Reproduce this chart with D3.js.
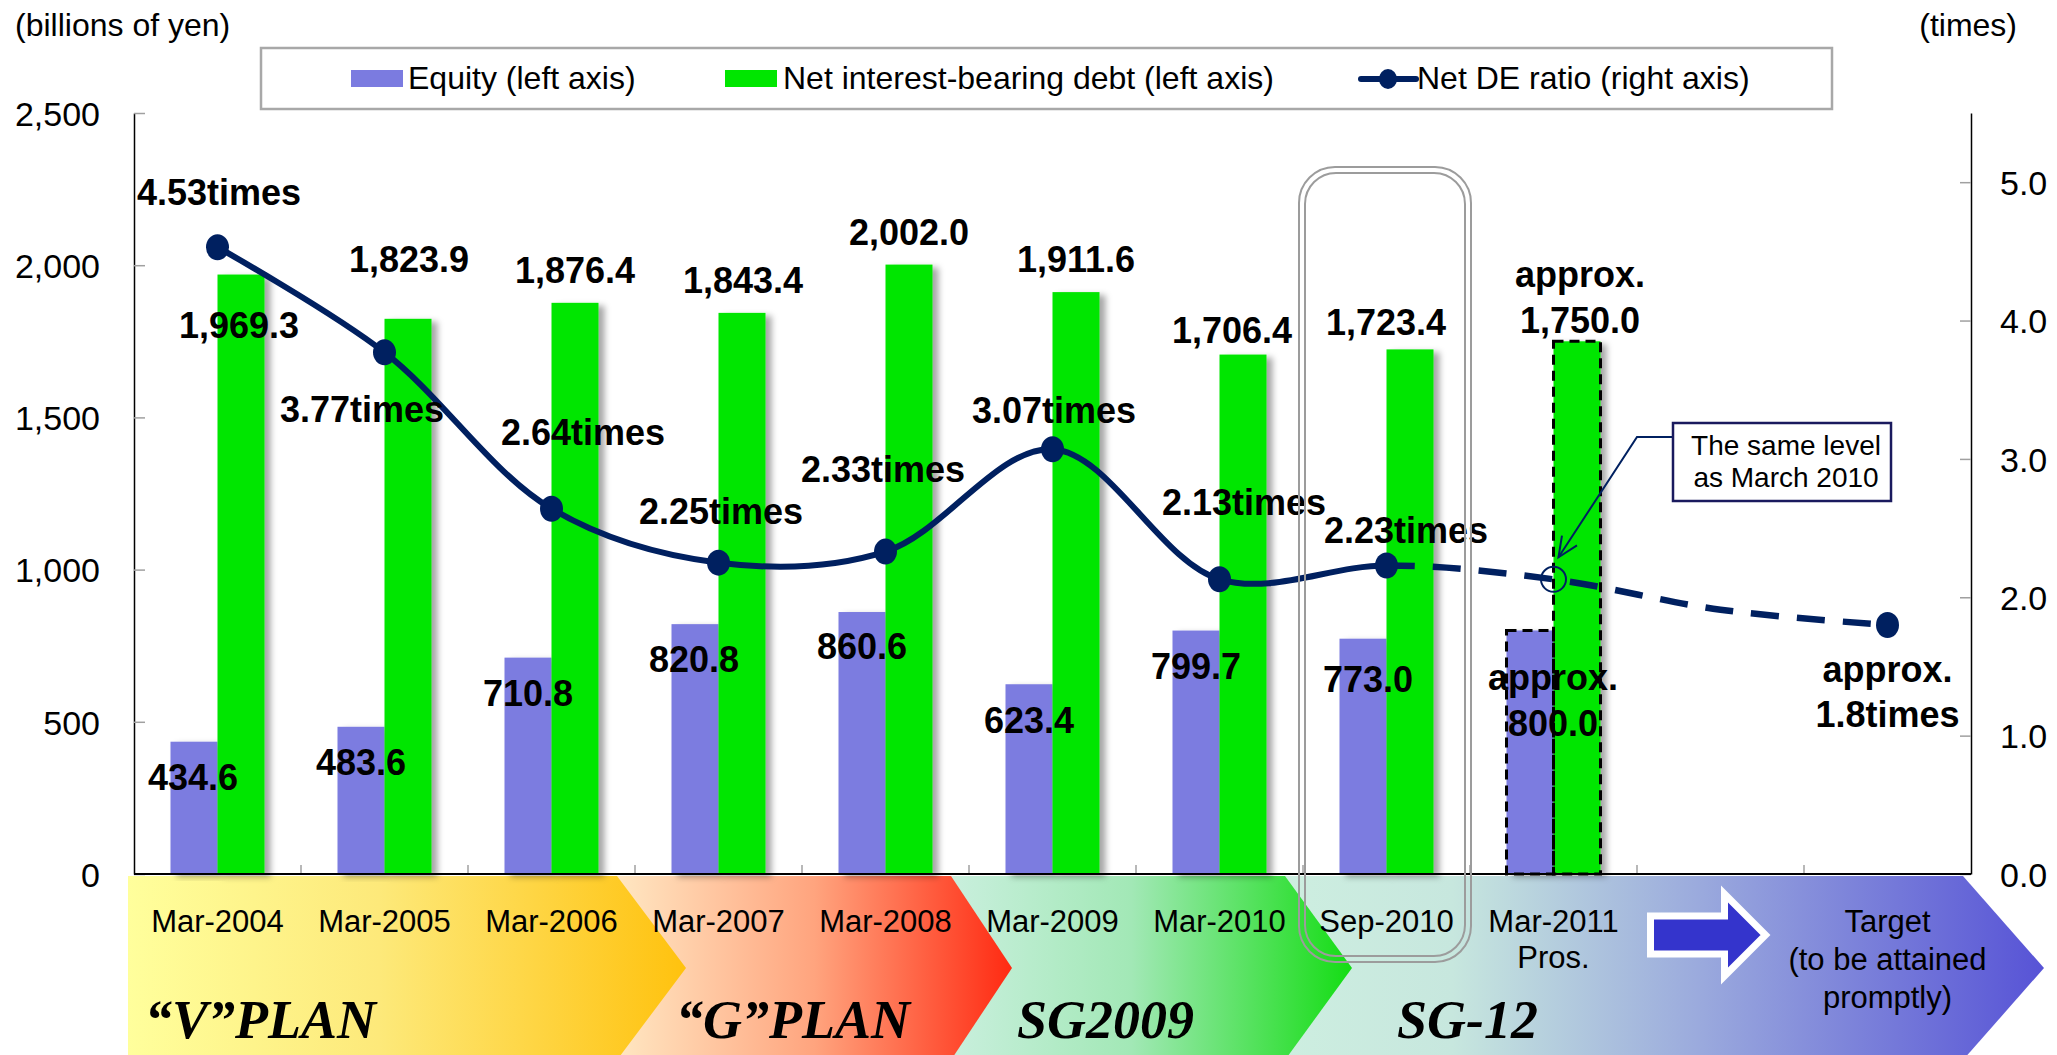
<!DOCTYPE html>
<html><head><meta charset="utf-8">
<script src="https://cdn.jsdelivr.net/npm/d3@7"></script>
<style>
body{margin:0;background:#fff}
svg{display:block}
text{font-family:"Liberation Sans",Arial,Helvetica,sans-serif}
</style>
</head><body>
<svg id="c" width="2057" height="1055"></svg>
<script>
// ---------- data ----------
const categories = ["Mar-2004","Mar-2005","Mar-2006","Mar-2007","Mar-2008","Mar-2009","Mar-2010","Sep-2010","Mar-2011","gap","Target"];
const tickLabels = [["Mar-2004"],["Mar-2005"],["Mar-2006"],["Mar-2007"],["Mar-2008"],["Mar-2009"],["Mar-2010"],["Sep-2010"],["Mar-2011","Pros."],[],["Target","(to be attained","promptly)"]];
const barCats = ["Mar-2004","Mar-2005","Mar-2006","Mar-2007","Mar-2008","Mar-2009","Mar-2010","Sep-2010","Mar-2011"];
const equity = [434.6,483.6,710.8,820.8,860.6,623.4,799.7,773.0,800.0];
const debt = [1969.3,1823.9,1876.4,1843.4,2002.0,1911.6,1706.4,1723.4,1750.0];
const ratioCats = ["Mar-2004","Mar-2005","Mar-2006","Mar-2007","Mar-2008","Mar-2009","Mar-2010","Sep-2010","Mar-2011","gap","Target"];
const ratio = [4.53,3.77,2.64,2.25,2.33,3.07,2.13,2.23,2.13,1.91,1.8];
const ratioMarker = ["fill","fill","fill","fill","fill","fill","fill","fill","hollow","none","fill"];
const equityLabels = ["434.6","483.6","710.8","820.8","860.6","623.4","799.7","773.0","approx.|800.0"];
const debtLabels = ["1,969.3","1,823.9","1,876.4","1,843.4","2,002.0","1,911.6","1,706.4","1,723.4","approx.|1,750.0"];
const ratioLabels = ["4.53times","3.77times","2.64times","2.25times","2.33times","3.07times","2.13times","2.23times","","","approx.|1.8times"];
const leftTicks = [0,500,1000,1500,2000,2500];
const rightTicks = [0,1,2,3,4,5];
const legendItems = ["Equity (left axis)","Net interest-bearing debt (left axis)","Net DE ratio (right axis)"];
const plans = [
  {name:"\u201CV\u201DPLAN", from:"Mar-2004", to:"Mar-2007"},
  {name:"\u201CG\u201DPLAN", from:"Mar-2007", to:"Mar-2009"},
  {name:"SG2009", from:"Mar-2009", to:"Sep-2010"},
  {name:"SG-12", from:"Sep-2010", to:null}
];
const calloutLines = ["The same level","as March 2010"];

// ---------- layout (label nudges, px) ----------
const equityLabelOff = [[-1,48],[0,48],[0,48],[-1,48],[0,47],[0,49],[0,48],[5,53],[23,60]];
const debtLabelOff = [[-2,63],[1,-47],[0,-20],[1,-20],[0,-20],[0,-20],[-11,-12],[-24,-14],[3,-54]];
const ratioLabelOff = [[1.5,-42],[-22.5,70],[31.5,-64],[2.5,-39],[-2.5,-70],[1.5,-26],[24.5,-64],[19.5,-22.5],null,null,[0,57]];
const planTextOff = [17,59,66,112];
const planColors = [
  [["0","#ffff9c"],["0.45","#fde97a"],["1","#ffc20e"]],
  [["0","#ffe7c2"],["0.5","#ffa47e"],["1","#ff2a12"]],
  [["0","#c9efdd"],["0.45","#a2e8b6"],["1","#14dd14"]],
  [["0","#cdeee0"],["0.22","#c7e7de"],["0.55","#9aa9dd"],["1","#5753d6"]]
];

const NAVY = "#002060", EQ = "#7b7be0", GR = "#00e600";
const svg = d3.select("#c");
const defs = svg.append("defs");

const L = 134, R = 1971, T = 113, B = 874;
const x = d3.scaleBand().domain(categories).range([L,R]).padding(0);
const bw = x.bandwidth();
const xs = d3.scaleBand().domain(["eq","debt"]).range([0,bw]).paddingInner(0).paddingOuter(0.7766);
const yL = d3.scaleLinear().domain([0,2500]).range([B,T]);
const yR = d3.scaleLinear().domain([0,5.5]).range([B,T]);
const xc = c => x(c) + bw/2;

// shadow filter
const f = defs.append("filter").attr("id","sh").attr("x","-30%").attr("y","-5%").attr("width","160%").attr("height","110%");
f.append("feDropShadow").attr("dx",6).attr("dy",3).attr("stdDeviation",3).attr("flood-color","#000").attr("flood-opacity",0.35);

// ---------- bottom band ----------
const bandTop = 876, bandBot = 1060, bandMid = (bandTop+bandBot)/2;
const planX0 = [128];
const planX1 = plans.map(p => p.to ? x(p.to) - 18 : R - 8);
for (let i=1;i<plans.length;i++) planX0.push(planX1[i-1]);
const depth = [69,61,67,81];
plans.forEach((p,i)=>{
  const g = defs.append("linearGradient").attr("id","pg"+i).attr("gradientUnits","userSpaceOnUse")
    .attr("x1",planX0[i]).attr("x2",planX1[i]+depth[i]).attr("y1",0).attr("y2",0);
  planColors[i].forEach(s=>g.append("stop").attr("offset",s[0]).attr("stop-color",s[1]));
});
const bandG = svg.append("g");
[3,2,1,0].forEach(i=>{
  const x0 = planX0[i], x1 = planX1[i];
  bandG.append("path")
    .attr("d",`M${x0},${bandTop}L${x1},${bandTop}L${x1+depth[i]},${bandMid}L${x1},${bandBot}L${x0},${bandBot}Z`)
    .attr("fill",`url(#pg${i})`);
});
plans.forEach((p,i)=>{
  bandG.append("text").attr("x",planX0[i]+planTextOff[i]).attr("y",1038)
    .style("font-family",'"Liberation Serif","Times New Roman",serif')
    .attr("font-weight","bold").attr("font-style","italic").attr("font-size",54)
    .text(p.name);
});
// category labels
categories.forEach((c,i)=>{
  const lines = tickLabels[i];
  const lh = lines.length>2 ? 38 : 36;
  lines.forEach((s,j)=>{
    bandG.append("text").attr("x",xc(c)).attr("y",932+j*lh).attr("text-anchor","middle")
      .attr("font-size",31).text(s);
  });
});
// big arrow in the gap slot
{
  const cx = xc("gap"), cy = 935;
  const pts = [[cx-70,cy-19],[cx+4,cy-19],[cx+4,cy-41],[cx+45,cy],[cx+4,cy+41],[cx+4,cy+19],[cx-70,cy+19]];
  bandG.append("polygon").attr("points",pts.map(p=>p.join(",")).join(" "))
    .attr("fill","#3434cc").attr("stroke","#fff").attr("stroke-width",7).attr("stroke-linejoin","miter");
}

// ---------- axes ----------
const axL = d3.axisLeft(yL).tickValues(leftTicks).tickFormat(d3.format(",")).tickSize(-11).tickSizeOuter(0).tickPadding(34);
const axR = d3.axisRight(yR).tickValues(rightTicks).tickFormat(d3.format(".1f")).tickSize(-11).tickSizeOuter(0).tickPadding(29);
const gL = svg.append("g").attr("transform",`translate(${L},0)`).call(axL);
const gR = svg.append("g").attr("transform",`translate(${R},0)`).call(axR);
[gL,gR].forEach(g=>{
  g.select(".domain").attr("stroke","#000").attr("stroke-width",1.5);
  g.selectAll(".tick line").attr("stroke","#a0a0a0").attr("stroke-width",1.5);
  g.selectAll(".tick text").attr("font-size",34).attr("fill","#000").attr("dy","0.36em")
    .style("font-family",'"Liberation Sans",Arial,sans-serif');
});
// x axis
const gX = svg.append("g");
gX.selectAll("line.xt").data(categories.slice(1)).join("line")
  .attr("x1",d=>x(d)).attr("x2",d=>x(d)).attr("y1",B).attr("y2",B-9)
  .attr("stroke","#a0a0a0").attr("stroke-width",1.5);
gX.append("line").attr("x1",L).attr("x2",R).attr("y1",B).attr("y2",B).attr("stroke","#000").attr("stroke-width",2);

// ---------- bars ----------
const barsG = svg.append("g");
barCats.forEach((c,i)=>{
  const isProj = c==="Mar-2011";
  const ex = x(c)+xs("eq"), dx = x(c)+xs("debt"), w = xs.bandwidth();
  barsG.append("rect").attr("x",ex).attr("y",yL(equity[i])).attr("width",w).attr("height",B-yL(equity[i]))
    .attr("fill",EQ).attr("filter","url(#sh)");
  barsG.append("rect").attr("x",dx).attr("y",yL(debt[i])).attr("width",w).attr("height",B-yL(debt[i]))
    .attr("fill",GR).attr("filter","url(#sh)");
  if (isProj){
    [[ex,equity[i]],[dx,debt[i]]].forEach(([bx,v])=>{
      barsG.append("rect").attr("x",bx).attr("y",yL(v)).attr("width",w).attr("height",B-yL(v))
        .attr("fill","none").attr("stroke","#000").attr("stroke-width",3).attr("stroke-dasharray","10 6");
    });
  }
});
gX.raise();

// ---------- line ----------
const pts = ratioCats.map((c,i)=>[xc(c), yR(ratio[i])]);
const lineGen = d3.line().curve(d3.curveCatmullRom.alpha(0.5));
const splitX = xc("Sep-2010");
const clipA = defs.append("clipPath").attr("id","clipSolid");
clipA.append("rect").attr("x",0).attr("y",0).attr("width",splitX).attr("height",1055);
const clipB = defs.append("clipPath").attr("id","clipDash");
clipB.append("rect").attr("x",splitX).attr("y",0).attr("width",2057-splitX).attr("height",1055);
const lineG = svg.append("g");
lineG.append("path").attr("d",lineGen(pts)).attr("fill","none").attr("stroke",NAVY).attr("stroke-width",6)
  .attr("clip-path","url(#clipSolid)");
const dashP = lineG.append("path").attr("d",lineGen(pts)).attr("fill","none").attr("stroke",NAVY).attr("stroke-width",6.5)
  .attr("stroke-dasharray","28 18").attr("clip-path","url(#clipDash)");
{
  const node = dashP.node();
  const total = node.getTotalLength();
  let lo=0, hi=total;
  for (let k=0;k<40;k++){ const m=(lo+hi)/2; if (node.getPointAtLength(m).x < splitX) lo=m; else hi=m; }
  dashP.attr("stroke-dashoffset", -lo);
}
ratioCats.forEach((c,i)=>{
  if (ratioMarker[i]==="hollow"){
    lineG.append("ellipse").attr("cx",pts[i][0]).attr("cy",pts[i][1]).attr("rx",12.5).attr("ry",12.5)
      .attr("fill","none").attr("stroke",NAVY).attr("stroke-width",2);
  } else if (ratioMarker[i]==="fill") {
    lineG.append("ellipse").attr("cx",pts[i][0]).attr("cy",pts[i][1]).attr("rx",11.5).attr("ry",13).attr("fill",NAVY);
  }
});

// ---------- data labels ----------
const labG = svg.append("g").attr("font-weight","bold").attr("font-size",36).attr("text-anchor","middle");
function multi(txt, cx, by, lh){
  txt.split("|").forEach((s,j)=>{
    labG.append("text").attr("x",cx).attr("y",by+j*lh).text(s);
  });
}
barCats.forEach((c,i)=>{
  const w = xs.bandwidth();
  multi(equityLabels[i], x(c)+xs("eq")+w/2+equityLabelOff[i][0], yL(equity[i])+equityLabelOff[i][1], 46);
  multi(debtLabels[i], x(c)+xs("debt")+w/2+debtLabelOff[i][0], yL(debt[i])+debtLabelOff[i][1], 46);
});
ratioCats.forEach((c,i)=>{
  if (!ratioLabelOff[i]) return;
  multi(ratioLabels[i], xc(c)+ratioLabelOff[i][0], yR(ratio[i])+ratioLabelOff[i][1], 45);
});

// ---------- highlight box around Sep-2010 ----------
{
  const x0 = x("Sep-2010")-4, x1 = x("Sep-2010")+bw+1;
  const hb = svg.append("g").attr("fill","none").attr("stroke","#9c9c9c").attr("stroke-width",2);
  hb.append("rect").attr("x",x0).attr("y",167).attr("width",x1-x0).attr("height",962-167).attr("rx",36);
  hb.append("rect").attr("x",x0+6).attr("y",173).attr("width",x1-x0-12).attr("height",962-173-6).attr("rx",31);
}

// ---------- callout ----------
{
  const px = xc("Mar-2011"), py = yR(ratio[8]);
  const bx = 1673, by = 423, bwid = 218, bh = 78;
  const cg = svg.append("g");
  const ax = px+5, ay = py-22;
  cg.append("polyline").attr("points",`${bx},${437} ${bx-36},${437} ${ax},${ay}`)
    .attr("fill","none").attr("stroke",NAVY).attr("stroke-width",2);
  const ang = Math.atan2(ay-437, ax-(bx-36));
  const hl = 22, sp = 0.42;
  cg.append("polyline").attr("points",
    `${ax-hl*Math.cos(ang-sp)},${ay-hl*Math.sin(ang-sp)} ${ax},${ay} ${ax-hl*Math.cos(ang+sp)},${ay-hl*Math.sin(ang+sp)}`)
    .attr("fill","none").attr("stroke",NAVY).attr("stroke-width",2);
  cg.append("rect").attr("x",bx).attr("y",by).attr("width",bwid).attr("height",bh)
    .attr("fill","#fff").attr("stroke","#1a1a5e").attr("stroke-width",2.5);
  calloutLines.forEach((s,j)=>{
    cg.append("text").attr("x",bx+bwid/2+4).attr("y",455+j*32).attr("text-anchor","middle")
      .attr("font-size",28).text(s);
  });
}

// ---------- legend & axis titles ----------
{
  const lg = svg.append("g");
  lg.append("rect").attr("x",261).attr("y",48).attr("width",1832-261).attr("height",61)
    .attr("fill","#fff").attr("stroke","#a8a8a8").attr("stroke-width",2.5);
  lg.append("rect").attr("x",351).attr("y",70).attr("width",52).attr("height",17).attr("fill",EQ);
  lg.append("text").attr("x",408).attr("y",89).attr("font-size",32).text(legendItems[0]);
  lg.append("rect").attr("x",725).attr("y",70).attr("width",52).attr("height",17).attr("fill",GR);
  lg.append("text").attr("x",783).attr("y",89).attr("font-size",32).text(legendItems[1]);
  lg.append("line").attr("x1",1361).attr("x2",1416).attr("y1",79).attr("y2",79).attr("stroke",NAVY).attr("stroke-width",6).attr("stroke-linecap","round");
  lg.append("ellipse").attr("cx",1388).attr("cy",79).attr("rx",9).attr("ry",10).attr("fill",NAVY);
  lg.append("text").attr("x",1417).attr("y",89).attr("font-size",32).text(legendItems[2]);
  svg.append("text").attr("x",15).attr("y",36).attr("font-size",32).text("(billions of yen)");
  svg.append("text").attr("x",2017).attr("y",36).attr("font-size",32).attr("text-anchor","end").text("(times)");
}
</script>
</body></html>
